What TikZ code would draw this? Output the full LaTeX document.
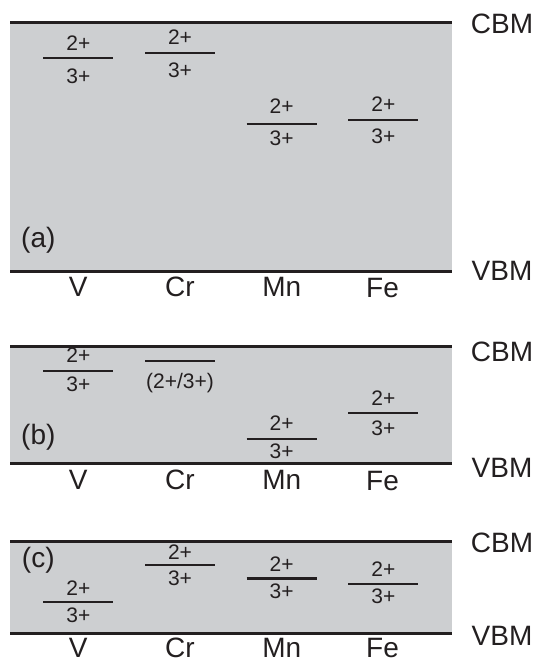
\documentclass[tikz,border=0pt]{standalone}
\usepackage{fontspec}
\setmainfont{Liberation Sans}
\usepackage{xcolor}
\definecolor{bandgray}{HTML}{CDCFD1}
\definecolor{inkblack}{HTML}{231F20}
\usetikzlibrary{positioning}

\begin{document}
\begin{tikzpicture}[
  x=1pt,y=-1pt,
  band/.style ={fill=bandgray},
  edge/.style ={draw=inkblack,line width=2.7pt},
  level/.style={draw=inkblack,line width=2.2pt},
  chg/.style  ={inner sep=0pt,text=inkblack,font=\fontsize{21}{24}\selectfont},
  elem/.style ={inner sep=0pt,text=inkblack,font=\fontsize{28}{32}\selectfont},
  bandlab/.style={inner sep=0pt,text=inkblack,font=\fontsize{28}{32}\selectfont},
  tag/.style  ={inner sep=0pt,text=inkblack,font=\fontsize{28}{32}\selectfont}
]
\useasboundingbox (0,0) rectangle (537,662);

% panel (a)
\fill[band] (10,22.3) rectangle (451.7,271.7);
\draw[edge] (10,22.3) -- (451.7,22.3);
\draw[edge] (10,271.7) -- (451.7,271.7);
\node[bandlab] (cbma) at (502,24) {CBM};
\node[bandlab] (vbma) at (502,270.7) {VBM};
\node[tag] (taga) at (38.3,240.7) {(a)};

\coordinate (Va) at (78.3,58);
\draw[level] ([xshift=-35]Va) -- ([xshift=35]Va);
\node[chg] (Va2) at (78.3,43.3) {2+};
\node[chg] (Va3) at (78.3,76) {3+};
\coordinate (Cra) at (180,53.3);
\draw[level] ([xshift=-35]Cra) -- ([xshift=35]Cra);
\node[chg] (Cra2) at (180,37.3) {2+};
\node[chg] (Cra3) at (180,70.7) {3+};
\coordinate (Mna) at (281.7,124.3);
\draw[level] ([xshift=-35]Mna) -- ([xshift=35]Mna);
\node[chg] (Mna2) at (281.7,106.5) {2+};
\node[chg] (Mna3) at (281.7,138) {3+};
\coordinate (Fea) at (383.3,120);
\draw[level] ([xshift=-35]Fea) -- ([xshift=35]Fea);
\node[chg] (Fea2) at (383.3,104.3) {2+};
\node[chg] (Fea3) at (383.3,136.7) {3+};

\node[elem] (Vla)  at (78.3,287.3)  {V};
\node[elem] (Crla) at (180,287.3)   {Cr};
\node[elem] (Mnla) at (281.7,287.3) {Mn};
\node[elem] (Fela) at (382.5,288.3) {Fe};

% panel (b)
\fill[band] (10,346.7) rectangle (451.7,463.3);
\draw[edge] (10,346.7) -- (451.7,346.7);
\draw[edge] (10,463.3) -- (451.7,463.3);
\node[bandlab] (cbmb) at (502,352.3) {CBM};
\node[bandlab] (vbmb) at (502,467.5) {VBM};
\node[tag] (tagb) at (38.3,437.3) {(b)};

\coordinate (Vb) at (78.3,371);
\draw[level] ([xshift=-35]Vb) -- ([xshift=35]Vb);
\node[chg] (Vb2) at (78.3,355) {2+};
\node[chg] (Vb3) at (78.3,384) {3+};
\coordinate (Crb) at (180,360.7);
\draw[level] ([xshift=-35]Crb) -- ([xshift=35]Crb);
\node[chg] (Crb23) at (180,383.3) {(2+/3+)};
\coordinate (Mnb) at (281.7,439.3);
\draw[level] ([xshift=-35]Mnb) -- ([xshift=35]Mnb);
\node[chg] (Mnb2) at (281.7,422.7) {2+};
\node[chg] (Mnb3) at (281.7,451) {3+};
\coordinate (Feb) at (383.3,413.3);
\draw[level] ([xshift=-35]Feb) -- ([xshift=35]Feb);
\node[chg] (Feb2) at (383.3,398.3) {2+};
\node[chg] (Feb3) at (383.3,428.3) {3+};

\node[elem] (Vlb)  at (78.3,480)  {V};
\node[elem] (Crlb) at (180,480)   {Cr};
\node[elem] (Mnlb) at (281.7,480) {Mn};
\node[elem] (Felb) at (382.5,481) {Fe};

% panel (c)
\fill[band] (10,541.7) rectangle (451.7,633.3);
\draw[edge] (10,541.7) -- (451.7,541.7);
\draw[edge] (10,633.3) -- (451.7,633.3);
\node[bandlab] (cbmc) at (502,542.5) {CBM};
\node[bandlab] (vbmc) at (502,635.5) {VBM};
\node[tag] (tagc) at (38.3,560) {(c)};

\coordinate (Vc) at (78.3,601.7);
\draw[level] ([xshift=-35]Vc) -- ([xshift=35]Vc);
\node[chg] (Vc2) at (78.3,588.3) {2+};
\node[chg] (Vc3) at (78.3,615) {3+};
\coordinate (Crc) at (180,565);
\draw[level] ([xshift=-35]Crc) -- ([xshift=35]Crc);
\node[chg] (Crc2) at (180,552) {2+};
\node[chg] (Crc3) at (180,578.5) {3+};
\coordinate (Mnc) at (281.7,578.5);
\draw[level] ([xshift=-35]Mnc) -- ([xshift=35]Mnc);
\node[chg] (Mnc2) at (281.7,564) {2+};
\node[chg] (Mnc3) at (281.7,591.5) {3+};
\coordinate (Fec) at (383.3,584.3);
\draw[level] ([xshift=-35]Fec) -- ([xshift=35]Fec);
\node[chg] (Fec2) at (383.3,569) {2+};
\node[chg] (Fec3) at (383.3,596.5) {3+};

\node[elem] (Vlc)  at (78.3,647.5)  {V};
\node[elem] (Crlc) at (180,647.5)   {Cr};
\node[elem] (Mnlc) at (281.7,647.5) {Mn};
\node[elem] (Felc) at (382.5,647.5) {Fe};

\end{tikzpicture}
\end{document}
